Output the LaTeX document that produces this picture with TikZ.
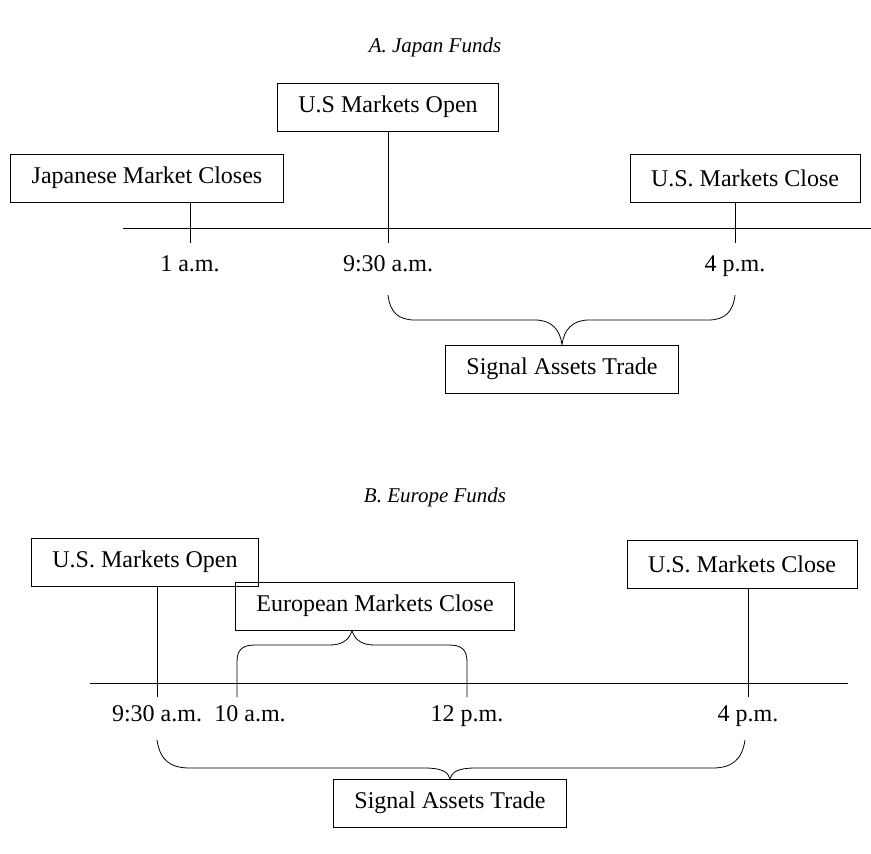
\documentclass[tikz,border=0pt]{standalone}
\usepackage{fontspec}
\setmainfont{Liberation Serif}
\begin{document}
\begin{tikzpicture}[x=0.5pt,y=-0.5pt,
  box/.style={draw,inner xsep=10.5pt,minimum height=24pt,font=\fontsize{12}{13}\selectfont},
  tlabel/.style={font=\fontsize{12}{13}\selectfont,text height=8pt,text depth=2.5pt},
  title/.style={font=\fontsize{10.5}{12}\itshape\selectfont}]
\useasboundingbox (0,0) rectangle (871,853);
% A. Japan Funds
\node[title] (titA) at (435,47) {A. Japan Funds};
\node[box] (usoA) at (388,107) {U.S Markets Open};
\node[box] (jpn) at (147,178) {Japanese Market Closes};
\node[box] (uscA) at (745,178) {U.S. Markets Close};
\node[box] (sigA) at (562,369) {Signal Assets Trade};
\coordinate (axA1) at (123,228);
\coordinate (axA2) at (871,228);
\coordinate (tA1) at (190,243);
\coordinate (tA2) at (388,243);
\coordinate (tA3) at (735,243);
\draw (axA1) -- (axA2);
\draw (tA1) -- (tA1 |- jpn.south);
\draw (tA2) -- (usoA.south);
\draw (tA3) -- (tA3 |- uscA.south);
\node[tlabel] (lA1) at (190,266) {1 a.m.};
\node[tlabel] (lA2) at (388,266) {9:30 a.m.};
\node[tlabel] (lA3) at (735,266) {4 p.m.};
\coordinate (bA1) at (388,295);
\coordinate (bA2) at (735,295);
\draw (bA1) .. controls (390,312) and (398,320) .. (415,320) -- (535,320)
  .. controls (552,320) and (560,330) .. (sigA.north)
  .. controls (564,330) and (572,320) .. (589,320) -- (708,320)
  .. controls (725,320) and (733,312) .. (bA2);
% B. Europe Funds
\node[title] (titB) at (435,497) {B. Europe Funds};
\node[box] (usoB) at (145,562) {U.S. Markets Open};
\node[box] (uscB) at (742,564) {U.S. Markets Close};
\node[box,anchor=west] (eur) at (235,606) {European Markets Close};
\node[box] (sigB) at (450,803) {Signal Assets Trade};
\coordinate (axB1) at (90,683);
\coordinate (axB2) at (848,683);
\coordinate (tB1) at (157,697);
\coordinate (tB2) at (237,697);
\coordinate (tB3) at (467,697);
\coordinate (tB4) at (748,697);
\coordinate (eurtip) at (352,628);
\draw (axB1) -- (axB2);
\draw (tB1) -- (tB1 |- usoB.south);
\draw (tB4) -- (tB4 |- uscB.south);
\draw (tB2) -- (237,662) .. controls (237,650) and (242,645) .. (255,645) -- (330,645)
  .. controls (344,645) and (350,638) .. (eurtip |- eur.south)
  .. controls (354,638) and (360,645) .. (374,645) -- (449,645)
  .. controls (462,645) and (467,650) .. (467,662) -- (tB3);
\node[tlabel] (lB1) at (157,716) {9:30 a.m.};
\node[tlabel] (lB2) at (250,716) {10 a.m.};
\node[tlabel] (lB3) at (467,716) {12 p.m.};
\node[tlabel] (lB4) at (748,716) {4 p.m.};
\coordinate (bB1) at (157,740);
\coordinate (bB2) at (745,740);
\draw (bB1) .. controls (160,760) and (170,768) .. (190,768) -- (425,768)
  .. controls (442,768) and (448,772) .. (sigB.north)
  .. controls (452,772) and (458,768) .. (475,768) -- (712,768)
  .. controls (732,768) and (742,760) .. (bB2);
\end{tikzpicture}
\end{document}
